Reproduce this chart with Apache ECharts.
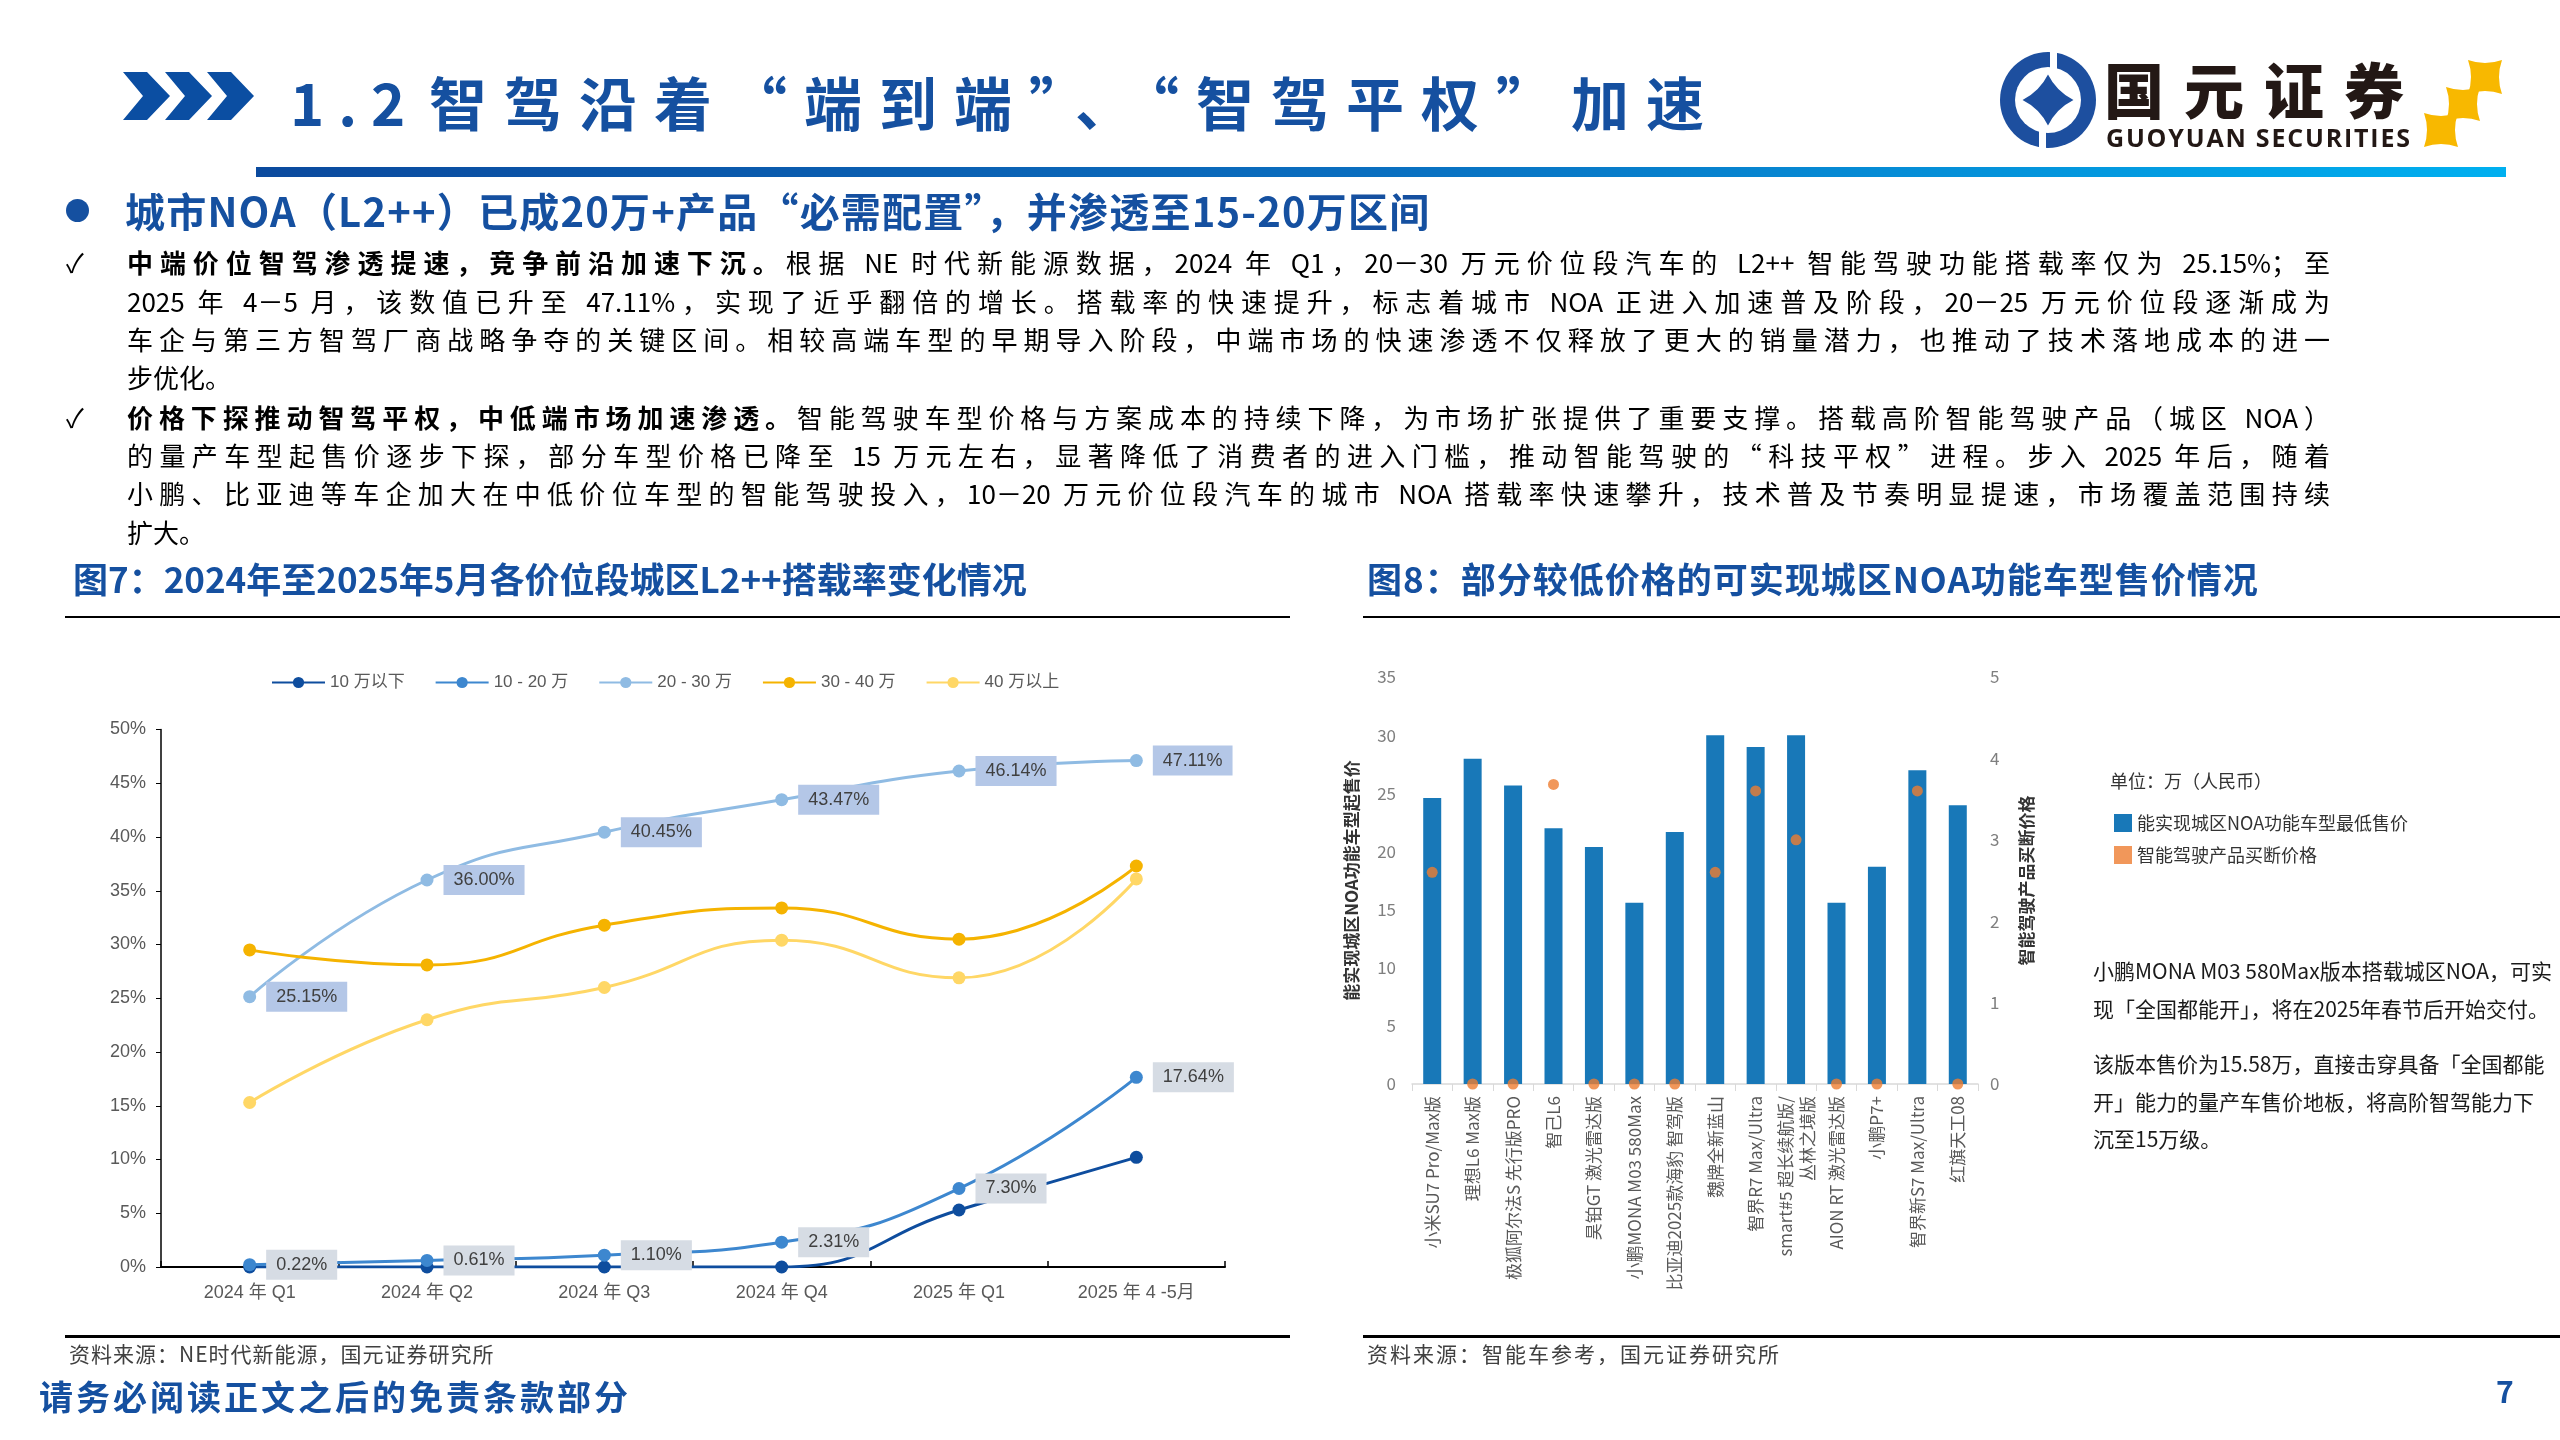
<!DOCTYPE html>
<html><head><meta charset="utf-8">
<script src="https://cdn.jsdelivr.net/npm/echarts@6/dist/echarts.min.js"></script>
<style>
html,body{margin:0;padding:0;background:#fff;width:2560px;height:1440px;overflow:hidden;font-family:"Noto Sans CJK SC","Noto Sans",sans-serif;}
.abs{position:absolute;white-space:nowrap;}
#chart{position:absolute;left:0;top:0;width:2560px;height:1440px;}
.blue{color:#1550a0;}
.para{position:absolute;left:127px;width:2203px;font-size:26px;line-height:38px;height:38px;color:#000;white-space:nowrap;text-align:justify;text-align-last:justify;}
.para.last{text-align-last:left;}
.chk{position:absolute;left:66px;font-size:26px;line-height:38px;color:#000;}
.rule{position:absolute;background:#000;}
.note{position:absolute;left:2093px;font-size:21px;line-height:38px;color:#1a1a1a;white-space:nowrap;}
</style></head>
<body>
<div id="chart"></div>

<!-- header -->
<svg class="abs" style="left:123px;top:72px" width="135" height="50">
  <polygon points="0,0 24,0 47,24 24,48 0,48 20,24" fill="#0b4ea2"/>
  <polygon points="42,0 66,0 89,24 66,48 42,48 62,24" fill="#0b4ea2"/>
  <polygon points="84,0 108,0 131,24 108,48 84,48 104,24" fill="#0b4ea2"/>
</svg>
<div class="abs blue" style="left:290px;top:61px;font-size:58px;line-height:80px;font-weight:700;letter-spacing:14px;">1.2</div>
<div class="abs blue" style="left:429px;top:61px;font-size:58px;line-height:80px;font-weight:700;letter-spacing:17px;">智驾沿着“端到端”、“智驾平权”加速</div>
<div class="abs" style="left:256px;top:167px;width:2250px;height:10px;background:linear-gradient(90deg,#0b4a9e,#0a6fc0 50%,#00b0f0);"></div>

<svg class="abs" style="left:2000px;top:52px" width="96" height="96">
  <circle cx="48" cy="48" r="48" fill="#1d4f9f"/>
  <circle cx="48" cy="48" r="33" fill="#fff"/>
  <rect x="50" y="0" width="7" height="22" fill="#fff"/>
  <rect x="39" y="74" width="7" height="22" fill="#fff"/>
  <path d="M30,30 Q48,36 66,30 Q60,48 66,66 Q48,60 30,66 Q36,48 30,30Z" fill="#1d4f9f" transform="rotate(45 48 48)"/>
</svg>
<div class="abs" style="left:2104px;top:52px;font-size:60px;line-height:72px;font-weight:900;letter-spacing:20px;color:#231815;">国元证券</div>
<div class="abs" style="left:2106px;top:123px;font-size:25px;line-height:28px;font-weight:700;letter-spacing:1.8px;color:#231815;font-family:'Open Sans','Noto Sans',sans-serif;">GUOYUAN SECURITIES</div>
<svg class="abs" style="left:2424px;top:58px" width="82" height="92">
  <path d="M0,55 Q17,61 34,55 Q28,72 34,89 Q17,83 0,89 Q6,72 0,55Z" fill="#f8b800"/>
  <path d="M22,29 Q39,35 56,29 Q50,46 56,63 Q39,57 22,63 Q28,46 22,29Z" fill="#f8b800"/>
  <path d="M44,2 Q61,8 78,2 Q72,19 78,36 Q61,30 44,36 Q50,19 44,2Z" fill="#f8b800"/>
</svg>

<!-- heading -->
<div class="abs" style="left:66px;top:199px;width:23px;height:23px;border-radius:50%;background:#1550a0;"></div>
<div class="abs blue" style="left:125px;top:185px;font-size:40px;line-height:50px;font-weight:700;letter-spacing:1.2px;">城市NOA（L2++）已成20万+产品“必需配置”，并渗透至15-20万区间</div>

<!-- body -->
<div class="chk" style="top:243px">✓</div>
<div class="para" style="top:243px"><b>中端价位智驾渗透提速，竞争前沿加速下沉。</b>根据 NE 时代新能源数据，2024 年 Q1，20－30 万元价位段汽车的 L2++ 智能驾驶功能搭载率仅为 25.15%；至</div>
<div class="para" style="top:282px">2025 年 4－5 月，该数值已升至 47.11%，实现了近乎翻倍的增长。搭载率的快速提升，标志着城市 NOA 正进入加速普及阶段，20－25 万元价位段逐渐成为</div>
<div class="para" style="top:320px">车企与第三方智驾厂商战略争夺的关键区间。相较高端车型的早期导入阶段，中端市场的快速渗透不仅释放了更大的销量潜力，也推动了技术落地成本的进一</div>
<div class="para last" style="top:358px">步优化。</div>
<div class="chk" style="top:398px">✓</div>
<div class="para" style="top:398px"><b>价格下探推动智驾平权，中低端市场加速渗透。</b>智能驾驶车型价格与方案成本的持续下降，为市场扩张提供了重要支撑。搭载高阶智能驾驶产品（城区 NOA）</div>
<div class="para" style="top:436px">的量产车型起售价逐步下探，部分车型价格已降至 15 万元左右，显著降低了消费者的进入门槛，推动智能驾驶的“科技平权”进程。步入 2025 年后，随着</div>
<div class="para" style="top:474px">小鹏、比亚迪等车企加大在中低价位车型的智能驾驶投入，10－20 万元价位段汽车的城市 NOA 搭载率快速攀升，技术普及节奏明显提速，市场覆盖范围持续</div>
<div class="para last" style="top:513px">扩大。</div>

<!-- figure titles -->
<div class="abs blue" style="left:73px;top:556px;font-size:35px;line-height:44px;font-weight:700;">图7：2024年至2025年5月各价位段城区L2++搭载率变化情况</div>
<div class="abs blue" style="left:1367px;top:556px;font-size:35px;line-height:44px;font-weight:700;letter-spacing:1px;">图8：部分较低价格的可实现城区NOA功能车型售价情况</div>
<div class="rule" style="left:65px;top:616px;width:1225px;height:2px;"></div>
<div class="rule" style="left:1363px;top:616px;width:1197px;height:2px;"></div>

<!-- right chart notes -->
<div class="abs" style="left:2110px;top:766px;font-size:18px;line-height:28px;color:#333;">单位：万（人民币）</div>
<div class="note" style="top:951px">小鹏MONA M03 580Max版本搭载城区NOA，可实</div>
<div class="note" style="top:989px">现「全国都能开」，将在2025年春节后开始交付。</div>
<div class="note" style="top:1044px">该版本售价为15.58万，直接击穿具备「全国都能</div>
<div class="note" style="top:1082px">开」能力的量产车售价地板，将高阶智驾能力下</div>
<div class="note" style="top:1119px">沉至15万级。</div>

<!-- sources -->
<div class="rule" style="left:65px;top:1335px;width:1225px;height:3px;"></div>
<div class="rule" style="left:1363px;top:1335px;width:1197px;height:3px;"></div>
<div class="abs" style="left:69px;top:1340px;font-size:21px;line-height:26px;color:#404040;letter-spacing:1px;">资料来源：NE时代新能源，国元证券研究所</div>
<div class="abs" style="left:1367px;top:1340px;font-size:21px;line-height:26px;color:#404040;letter-spacing:2px;">资料来源：智能车参考，国元证券研究所</div>

<!-- footer -->
<div class="abs blue" style="left:39px;top:1374px;font-size:34px;line-height:44px;font-weight:700;letter-spacing:3px;">请务必阅读正文之后的免责条款部分</div>
<div class="abs blue" style="left:2496px;top:1370px;font-size:30px;line-height:40px;font-weight:700;">7</div>

<script>
// ---------- Figure 7 data (%) ----------
const quarters = ['2024 年 Q1', '2024 年 Q2', '2024 年 Q3', '2024 年 Q4', '2025 年 Q1', '2025 年 4 -5月'];
const tierNames = ['10 万以下', '10 - 20 万', '20 - 30 万', '30 - 40 万', '40 万以上'];
const under10 = [0, 0, 0, 0, 5.3, 10.2];
const from10to20 = [0.22, 0.61, 1.10, 2.31, 7.30, 17.64];
const from20to30 = [25.15, 36.00, 40.45, 43.47, 46.14, 47.11];
const from30to40 = [29.5, 28.1, 31.8, 33.4, 30.5, 37.3];
const over40 = [15.3, 23.0, 26.0, 30.4, 26.9, 36.1];
const pctAxis = { min: 0, max: 50, interval: 5 };

// ---------- Figure 8 data (万元) ----------
const models = ['小米SU7 Pro/Max版', '理想L6 Max版', '极狐阿尔法S 先行版PRO', '智己L6', '昊铂GT 激光雷达版',
  '小鹏MONA M03 580Max', '比亚迪2025款海豹 智驾版', '魏牌全新蓝山', '智界R7 Max/Ultra',
  'smart#5 超长续航版/\n丛林之境版', 'AION RT 激光雷达版', '小鹏P7+', '智界新S7 Max/Ultra', '红旗天工08'];
const minPrice = [24.59, 27.98, 25.68, 21.99, 20.39, 15.58, 21.68, 29.99, 28.98, 29.99, 15.58, 18.68, 26.98, 23.98];
const adasPrice = [2.6, 0, 0, 3.68, 0, 0, 0, 2.6, 3.6, 3.0, 0, 0, 3.6, 0];
const barName = '能实现城区NOA功能车型最低售价';
const dotName = '智能驾驶产品买断价格';
const leftAxis = { min: 0, max: 35, interval: 5 };
const rightAxis = { min: 0, max: 5, interval: 1 };

const tierColors = ['#0e4d9e', '#3d87cf', '#8fbbe3', '#f5b300', '#ffd766'];
const tierData = [under10, from10to20, from20to30, from30to40, over40];

const chart = echarts.init(document.getElementById('chart'));

const lineSeries = tierData.map((d, i) => {
  const s = {
    name: tierNames[i], type: 'line', xAxisIndex: 0, yAxisIndex: 0, data: d,
    smooth: true, symbol: 'circle', symbolSize: 13,
    lineStyle: { width: 3, color: tierColors[i] },
    itemStyle: { color: tierColors[i] },
    z: 3 + i
  };
  if (i === 1 || i === 2) {
    s.label = {
      show: true, position: 'right', distance: 10,
      formatter: p => p.value.toFixed(2) + '%',
      backgroundColor: i === 2 ? '#b4c7e7' : '#d6dce4',
      padding: [6, 10], color: '#404040', fontSize: 18,
      fontFamily: 'Liberation Sans, Arial, sans-serif'
    };
  }
  return s;
});

const axisFont = 'Liberation Sans, Arial, Noto Sans CJK SC, sans-serif';

chart.setOption({
  animation: false,
  textStyle: { fontFamily: '"Noto Sans CJK SC", sans-serif' },
  grid: [
    { left: 161, top: 729.5, width: 1064, height: 537.5, outerBoundsMode: 'none' },
    { left: 1412, top: 677, width: 566, height: 407, outerBoundsMode: 'none' }
  ],
  legend: [
    {
      data: tierNames, left: 266, top: 669, itemWidth: 53, itemHeight: 14, itemGap: 30,
      selectedMode: false,
      textStyle: { fontSize: 17, color: '#595959', fontFamily: axisFont }
    },
    {
      data: [barName, dotName], orient: 'vertical', left: 2109, top: 809,
      itemWidth: 18, itemHeight: 18, itemGap: 14, icon: 'rect', selectedMode: false,
      textStyle: { fontSize: 18, color: '#333' }
    }
  ],
  xAxis: [
    {
      type: 'category', gridIndex: 0, data: quarters, boundaryGap: true,
      axisLine: { show: true, lineStyle: { color: '#000', width: 2 } },
      axisTick: { show: true, inside: true, length: 6, lineStyle: { color: '#000', width: 1.5 } },
      axisLabel: { color: '#595959', fontSize: 18, margin: 17, fontFamily: axisFont },
      splitLine: { show: false }
    },
    {
      type: 'category', gridIndex: 1, data: models, boundaryGap: true,
      axisLine: { show: true, lineStyle: { color: '#d9d9d9', width: 1.5 } },
      axisTick: { show: true, length: 7, lineStyle: { color: '#d9d9d9' } },
      axisLabel: { rotate: 90, interval: 0, fontSize: 17, color: '#595959', margin: 12, lineHeight: 22 },
      splitLine: { show: false }
    }
  ],
  yAxis: [
    {
      type: 'value', gridIndex: 0, min: pctAxis.min, max: pctAxis.max, interval: pctAxis.interval,
      axisLine: { show: true, lineStyle: { color: '#000', width: 1.5 } },
      axisTick: { show: true, length: 5, lineStyle: { color: '#000' } },
      axisLabel: { formatter: '{value}%', color: '#595959', fontSize: 18, margin: 15, fontFamily: axisFont },
      splitLine: { show: false }
    },
    {
      type: 'value', gridIndex: 1, min: leftAxis.min, max: leftAxis.max, interval: leftAxis.interval,
      axisLine: { show: false }, axisTick: { show: false }, splitLine: { show: false },
      axisLabel: { color: '#7f7f7f', fontSize: 17, margin: 16 },
      name: '能实现城区NOA功能车型起售价', nameLocation: 'middle', nameRotate: 90, nameGap: 52,
      nameTextStyle: { fontSize: 17, color: '#333', fontWeight: 'bold' }
    },
    {
      type: 'value', gridIndex: 1, position: 'right', min: rightAxis.min, max: rightAxis.max, interval: rightAxis.interval,
      axisLine: { show: false }, axisTick: { show: false }, splitLine: { show: false },
      axisLabel: { color: '#7f7f7f', fontSize: 17, margin: 12 },
      name: dotName, nameLocation: 'middle', nameRotate: 90, nameGap: 40,
      nameTextStyle: { fontSize: 17, color: '#333', fontWeight: 'bold' }
    }
  ],
  series: lineSeries.concat([
    {
      name: barName, type: 'bar', xAxisIndex: 1, yAxisIndex: 1, data: minPrice,
      barWidth: 18, itemStyle: { color: '#1878b8' }
    },
    {
      name: dotName, type: 'scatter', xAxisIndex: 1, yAxisIndex: 2, data: adasPrice,
      symbolSize: 11, itemStyle: { color: '#ed7d31' }, z: 5
    }
  ])
});
</script>
</body></html>
